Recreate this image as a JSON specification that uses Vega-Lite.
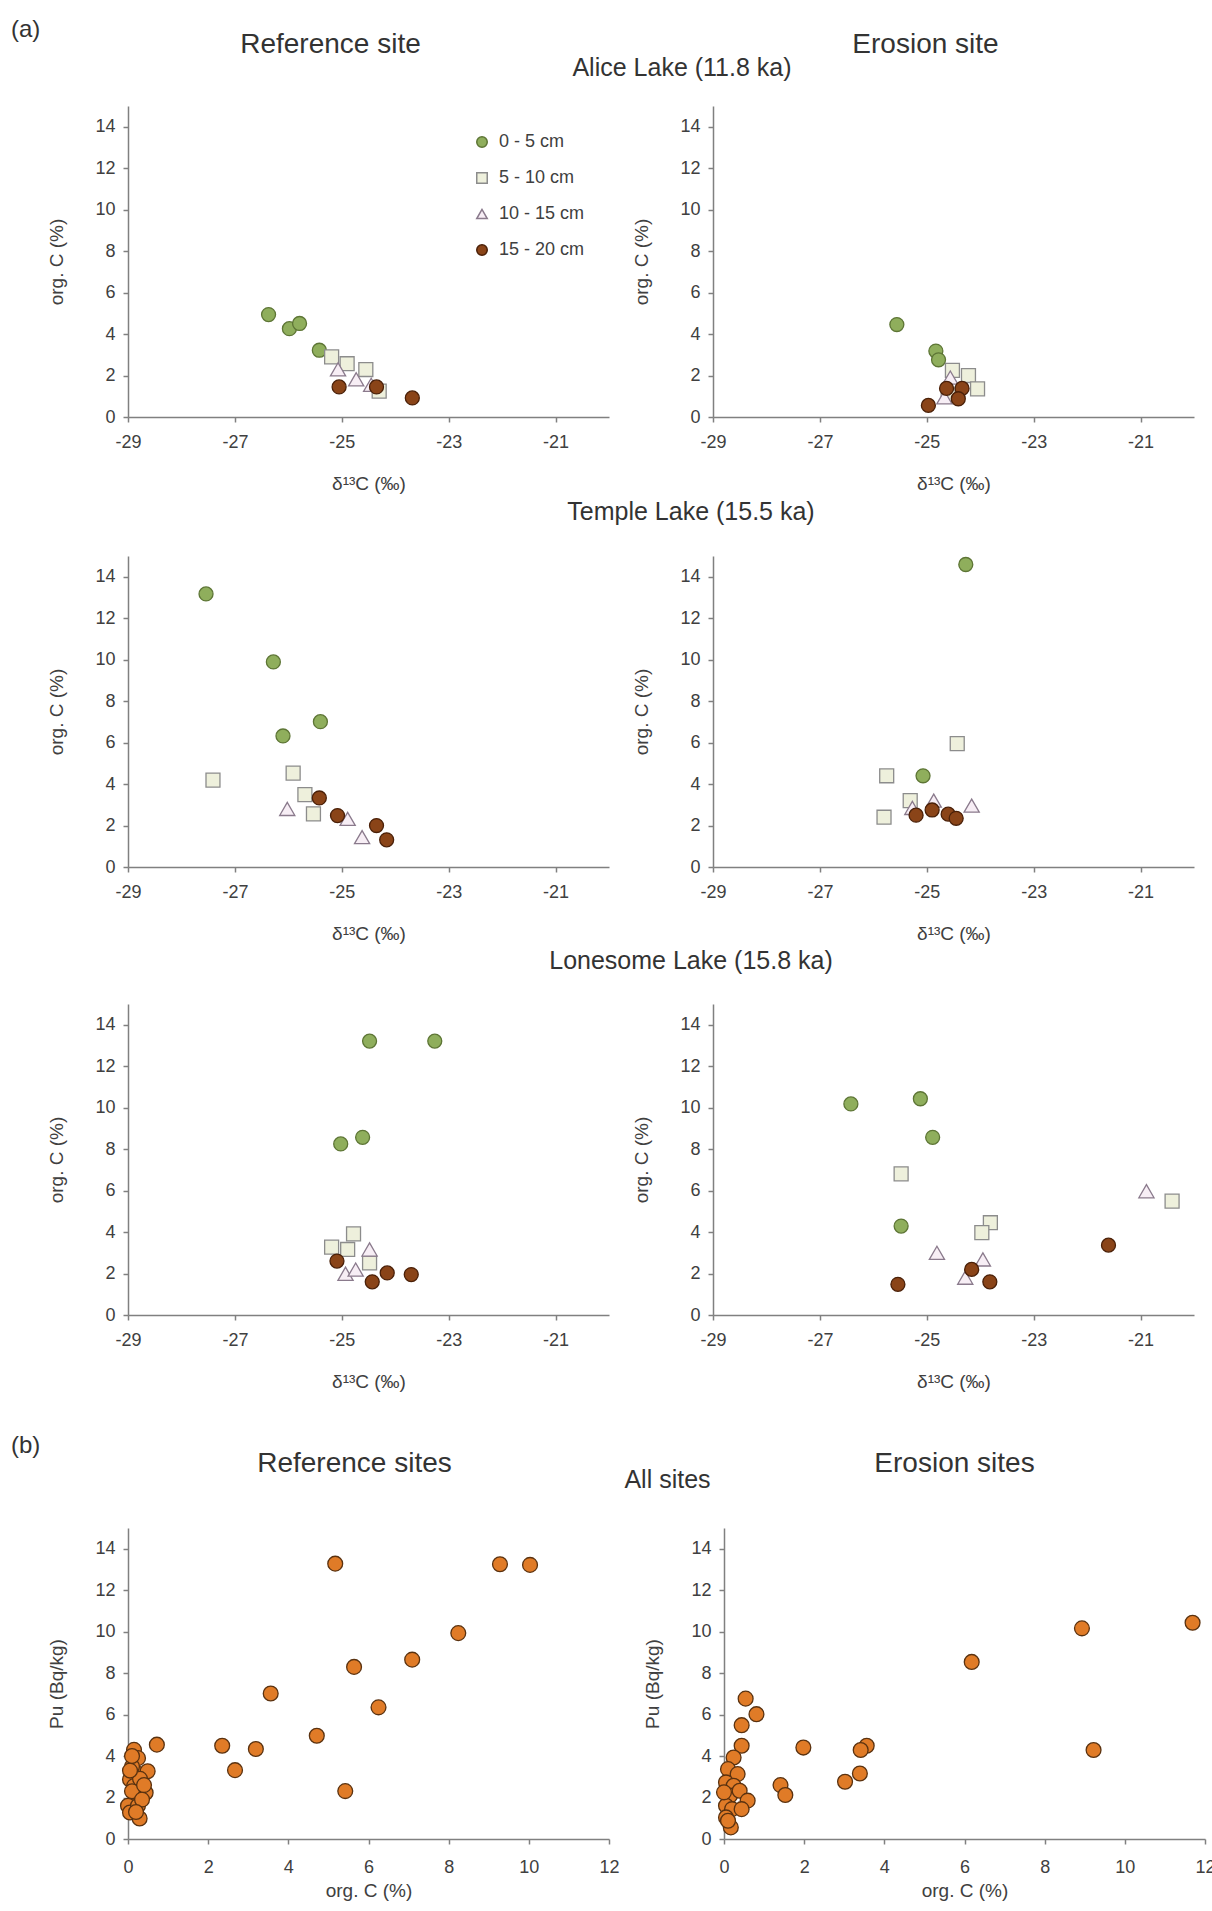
{
"$schema": "https://vega.github.io/schema/vega-lite/v6.json",
"padding": {"left": 10, "top": 18, "right": 10, "bottom": 5},
"background": "white",
"config": {
 "font": "Liberation Sans",
 "view": {"stroke": null},
 "axis": {"grid": false, "domainColor": "#808080", "domainWidth": 1.5, "tickColor": "#808080", "tickWidth": 1.5, "tickSize": 5, "labelFontSize": 18, "labelColor": "#404040", "titleFontSize": 19, "titleFontWeight": "normal", "titleColor": "#404040", "labelFlush": false, "labelOverlap": false},
 "axisX": {"labelPadding": 11, "titlePadding": 23},
 "axisY": {"labelPadding": 8, "titlePadding": 28},
 "title": {"fontWeight": "normal", "color": "#333333", "frame": "bounds", "anchor": "middle"}
},
"datasets": {
 "a": [
  {"lake":"Alice","site":"ref","depth":"0 - 5 cm","d13C":-26.37,"orgC":4.94},
  {"lake":"Alice","site":"ref","depth":"0 - 5 cm","d13C":-25.98,"orgC":4.26},
  {"lake":"Alice","site":"ref","depth":"0 - 5 cm","d13C":-25.79,"orgC":4.51},
  {"lake":"Alice","site":"ref","depth":"0 - 5 cm","d13C":-25.42,"orgC":3.22},
  {"lake":"Alice","site":"ref","depth":"5 - 10 cm","d13C":-25.19,"orgC":2.9},
  {"lake":"Alice","site":"ref","depth":"5 - 10 cm","d13C":-24.9,"orgC":2.57},
  {"lake":"Alice","site":"ref","depth":"5 - 10 cm","d13C":-24.55,"orgC":2.29},
  {"lake":"Alice","site":"ref","depth":"5 - 10 cm","d13C":-24.3,"orgC":1.25},
  {"lake":"Alice","site":"ref","depth":"10 - 15 cm","d13C":-25.07,"orgC":2.3},
  {"lake":"Alice","site":"ref","depth":"10 - 15 cm","d13C":-24.73,"orgC":1.82},
  {"lake":"Alice","site":"ref","depth":"10 - 15 cm","d13C":-24.45,"orgC":1.55},
  {"lake":"Alice","site":"ref","depth":"15 - 20 cm","d13C":-25.05,"orgC":1.45},
  {"lake":"Alice","site":"ref","depth":"15 - 20 cm","d13C":-24.35,"orgC":1.45},
  {"lake":"Alice","site":"ref","depth":"15 - 20 cm","d13C":-23.68,"orgC":0.92},
  {"lake":"Alice","site":"ero","depth":"0 - 5 cm","d13C":-25.56,"orgC":4.46},
  {"lake":"Alice","site":"ero","depth":"0 - 5 cm","d13C":-24.83,"orgC":3.18},
  {"lake":"Alice","site":"ero","depth":"0 - 5 cm","d13C":-24.78,"orgC":2.76},
  {"lake":"Alice","site":"ero","depth":"5 - 10 cm","d13C":-24.52,"orgC":2.25},
  {"lake":"Alice","site":"ero","depth":"5 - 10 cm","d13C":-24.22,"orgC":2.0},
  {"lake":"Alice","site":"ero","depth":"5 - 10 cm","d13C":-24.05,"orgC":1.36},
  {"lake":"Alice","site":"ero","depth":"5 - 10 cm","d13C":-24.6,"orgC":1.1},
  {"lake":"Alice","site":"ero","depth":"10 - 15 cm","d13C":-24.56,"orgC":1.9},
  {"lake":"Alice","site":"ero","depth":"10 - 15 cm","d13C":-24.67,"orgC":0.95},
  {"lake":"Alice","site":"ero","depth":"15 - 20 cm","d13C":-24.97,"orgC":0.56},
  {"lake":"Alice","site":"ero","depth":"15 - 20 cm","d13C":-24.63,"orgC":1.38},
  {"lake":"Alice","site":"ero","depth":"15 - 20 cm","d13C":-24.34,"orgC":1.38},
  {"lake":"Alice","site":"ero","depth":"15 - 20 cm","d13C":-24.41,"orgC":0.88},
  {"lake":"Temple","site":"ref","depth":"0 - 5 cm","d13C":-27.54,"orgC":13.17},
  {"lake":"Temple","site":"ref","depth":"0 - 5 cm","d13C":-26.28,"orgC":9.89},
  {"lake":"Temple","site":"ref","depth":"0 - 5 cm","d13C":-26.1,"orgC":6.32},
  {"lake":"Temple","site":"ref","depth":"0 - 5 cm","d13C":-25.4,"orgC":7.01},
  {"lake":"Temple","site":"ref","depth":"5 - 10 cm","d13C":-27.41,"orgC":4.19},
  {"lake":"Temple","site":"ref","depth":"5 - 10 cm","d13C":-25.91,"orgC":4.53},
  {"lake":"Temple","site":"ref","depth":"5 - 10 cm","d13C":-25.69,"orgC":3.49},
  {"lake":"Temple","site":"ref","depth":"5 - 10 cm","d13C":-25.53,"orgC":2.56},
  {"lake":"Temple","site":"ref","depth":"10 - 15 cm","d13C":-26.02,"orgC":2.8},
  {"lake":"Temple","site":"ref","depth":"10 - 15 cm","d13C":-24.89,"orgC":2.32},
  {"lake":"Temple","site":"ref","depth":"10 - 15 cm","d13C":-24.62,"orgC":1.44},
  {"lake":"Temple","site":"ref","depth":"15 - 20 cm","d13C":-25.42,"orgC":3.33},
  {"lake":"Temple","site":"ref","depth":"15 - 20 cm","d13C":-25.08,"orgC":2.48},
  {"lake":"Temple","site":"ref","depth":"15 - 20 cm","d13C":-24.35,"orgC":2.0},
  {"lake":"Temple","site":"ref","depth":"15 - 20 cm","d13C":-24.16,"orgC":1.31},
  {"lake":"Temple","site":"ero","depth":"0 - 5 cm","d13C":-24.27,"orgC":14.59},
  {"lake":"Temple","site":"ero","depth":"0 - 5 cm","d13C":-25.07,"orgC":4.4},
  {"lake":"Temple","site":"ero","depth":"5 - 10 cm","d13C":-24.43,"orgC":5.95},
  {"lake":"Temple","site":"ero","depth":"5 - 10 cm","d13C":-25.75,"orgC":4.4},
  {"lake":"Temple","site":"ero","depth":"5 - 10 cm","d13C":-25.8,"orgC":2.4},
  {"lake":"Temple","site":"ero","depth":"5 - 10 cm","d13C":-25.31,"orgC":3.2},
  {"lake":"Temple","site":"ero","depth":"10 - 15 cm","d13C":-24.16,"orgC":2.96},
  {"lake":"Temple","site":"ero","depth":"10 - 15 cm","d13C":-24.87,"orgC":3.2},
  {"lake":"Temple","site":"ero","depth":"10 - 15 cm","d13C":-25.27,"orgC":2.85},
  {"lake":"Temple","site":"ero","depth":"15 - 20 cm","d13C":-25.2,"orgC":2.5},
  {"lake":"Temple","site":"ero","depth":"15 - 20 cm","d13C":-24.9,"orgC":2.75},
  {"lake":"Temple","site":"ero","depth":"15 - 20 cm","d13C":-24.6,"orgC":2.55},
  {"lake":"Temple","site":"ero","depth":"15 - 20 cm","d13C":-24.45,"orgC":2.35},
  {"lake":"Lonesome","site":"ref","depth":"0 - 5 cm","d13C":-24.48,"orgC":13.21},
  {"lake":"Lonesome","site":"ref","depth":"0 - 5 cm","d13C":-23.26,"orgC":13.21},
  {"lake":"Lonesome","site":"ref","depth":"0 - 5 cm","d13C":-25.02,"orgC":8.25},
  {"lake":"Lonesome","site":"ref","depth":"0 - 5 cm","d13C":-24.61,"orgC":8.57},
  {"lake":"Lonesome","site":"ref","depth":"5 - 10 cm","d13C":-24.78,"orgC":3.91},
  {"lake":"Lonesome","site":"ref","depth":"5 - 10 cm","d13C":-25.19,"orgC":3.27},
  {"lake":"Lonesome","site":"ref","depth":"5 - 10 cm","d13C":-24.89,"orgC":3.16},
  {"lake":"Lonesome","site":"ref","depth":"5 - 10 cm","d13C":-24.48,"orgC":2.51},
  {"lake":"Lonesome","site":"ref","depth":"10 - 15 cm","d13C":-24.48,"orgC":3.16},
  {"lake":"Lonesome","site":"ref","depth":"10 - 15 cm","d13C":-24.93,"orgC":1.99},
  {"lake":"Lonesome","site":"ref","depth":"10 - 15 cm","d13C":-24.74,"orgC":2.19},
  {"lake":"Lonesome","site":"ref","depth":"15 - 20 cm","d13C":-25.09,"orgC":2.6},
  {"lake":"Lonesome","site":"ref","depth":"15 - 20 cm","d13C":-24.43,"orgC":1.6},
  {"lake":"Lonesome","site":"ref","depth":"15 - 20 cm","d13C":-24.15,"orgC":2.03},
  {"lake":"Lonesome","site":"ref","depth":"15 - 20 cm","d13C":-23.7,"orgC":1.95},
  {"lake":"Lonesome","site":"ero","depth":"0 - 5 cm","d13C":-26.42,"orgC":10.18},
  {"lake":"Lonesome","site":"ero","depth":"0 - 5 cm","d13C":-25.12,"orgC":10.43},
  {"lake":"Lonesome","site":"ero","depth":"0 - 5 cm","d13C":-24.89,"orgC":8.57},
  {"lake":"Lonesome","site":"ero","depth":"0 - 5 cm","d13C":-25.48,"orgC":4.29},
  {"lake":"Lonesome","site":"ero","depth":"5 - 10 cm","d13C":-25.48,"orgC":6.81},
  {"lake":"Lonesome","site":"ero","depth":"5 - 10 cm","d13C":-23.81,"orgC":4.45},
  {"lake":"Lonesome","site":"ero","depth":"5 - 10 cm","d13C":-23.97,"orgC":3.97},
  {"lake":"Lonesome","site":"ero","depth":"5 - 10 cm","d13C":-20.41,"orgC":5.49},
  {"lake":"Lonesome","site":"ero","depth":"10 - 15 cm","d13C":-20.89,"orgC":5.97},
  {"lake":"Lonesome","site":"ero","depth":"10 - 15 cm","d13C":-24.81,"orgC":3.0},
  {"lake":"Lonesome","site":"ero","depth":"10 - 15 cm","d13C":-23.95,"orgC":2.68},
  {"lake":"Lonesome","site":"ero","depth":"10 - 15 cm","d13C":-24.28,"orgC":1.8},
  {"lake":"Lonesome","site":"ero","depth":"15 - 20 cm","d13C":-25.54,"orgC":1.48},
  {"lake":"Lonesome","site":"ero","depth":"15 - 20 cm","d13C":-24.16,"orgC":2.2},
  {"lake":"Lonesome","site":"ero","depth":"15 - 20 cm","d13C":-23.82,"orgC":1.6},
  {"lake":"Lonesome","site":"ero","depth":"15 - 20 cm","d13C":-21.6,"orgC":3.37}
 ],
 "b": [
  {"site":"ref","orgC":5.17,"Pu":13.28},{"site":"ref","orgC":9.28,"Pu":13.25},{"site":"ref","orgC":10.03,"Pu":13.22},
  {"site":"ref","orgC":8.24,"Pu":9.93},{"site":"ref","orgC":7.09,"Pu":8.65},{"site":"ref","orgC":5.64,"Pu":8.3},
  {"site":"ref","orgC":3.56,"Pu":7.02},{"site":"ref","orgC":6.25,"Pu":6.35},{"site":"ref","orgC":4.71,"Pu":4.98},
  {"site":"ref","orgC":2.35,"Pu":4.5},{"site":"ref","orgC":3.19,"Pu":4.34},{"site":"ref","orgC":2.67,"Pu":3.32},
  {"site":"ref","orgC":5.42,"Pu":2.31},{"site":"ref","orgC":0.72,"Pu":4.55},
  {"site":"ref","orgC":0.15,"Pu":4.3},{"site":"ref","orgC":0.25,"Pu":3.9},{"site":"ref","orgC":0.2,"Pu":3.2},
  {"site":"ref","orgC":0.49,"Pu":3.27},{"site":"ref","orgC":0.05,"Pu":2.87},{"site":"ref","orgC":0.15,"Pu":2.55},
  {"site":"ref","orgC":0.44,"Pu":2.23},{"site":"ref","orgC":0.2,"Pu":2.0},{"site":"ref","orgC":0.0,"Pu":1.6},
  {"site":"ref","orgC":0.05,"Pu":1.28},{"site":"ref","orgC":0.29,"Pu":0.99},{"site":"ref","orgC":0.25,"Pu":1.6},
  {"site":"ref","orgC":0.1,"Pu":3.5},{"site":"ref","orgC":0.3,"Pu":2.9},{"site":"ref","orgC":0.1,"Pu":2.3},
  {"site":"ref","orgC":0.35,"Pu":1.9},{"site":"ref","orgC":0.05,"Pu":3.3},{"site":"ref","orgC":0.2,"Pu":1.3},
  {"site":"ref","orgC":0.4,"Pu":2.6},{"site":"ref","orgC":0.1,"Pu":4.0},
  {"site":"ero","orgC":11.69,"Pu":10.43},{"site":"ero","orgC":8.93,"Pu":10.16},{"site":"ero","orgC":6.18,"Pu":8.54},
  {"site":"ero","orgC":9.22,"Pu":4.29},{"site":"ero","orgC":3.56,"Pu":4.5},{"site":"ero","orgC":3.41,"Pu":4.29},
  {"site":"ero","orgC":3.39,"Pu":3.16},{"site":"ero","orgC":3.02,"Pu":2.76},{"site":"ero","orgC":1.98,"Pu":4.41},
  {"site":"ero","orgC":1.41,"Pu":2.6},{"site":"ero","orgC":1.53,"Pu":2.12},{"site":"ero","orgC":0.54,"Pu":6.77},
  {"site":"ero","orgC":0.81,"Pu":6.02},{"site":"ero","orgC":0.44,"Pu":5.49},{"site":"ero","orgC":0.44,"Pu":4.5},
  {"site":"ero","orgC":0.24,"Pu":3.93},{"site":"ero","orgC":0.1,"Pu":3.37},{"site":"ero","orgC":0.34,"Pu":3.13},
  {"site":"ero","orgC":0.05,"Pu":2.73},{"site":"ero","orgC":0.24,"Pu":2.57},{"site":"ero","orgC":0.15,"Pu":2.09},
  {"site":"ero","orgC":0.39,"Pu":2.33},{"site":"ero","orgC":0.59,"Pu":1.85},{"site":"ero","orgC":0.05,"Pu":1.6},
  {"site":"ero","orgC":0.2,"Pu":1.44},{"site":"ero","orgC":0.05,"Pu":1.04},{"site":"ero","orgC":0.17,"Pu":0.56},
  {"site":"ero","orgC":0.44,"Pu":1.44},{"site":"ero","orgC":0.0,"Pu":2.25},{"site":"ero","orgC":0.1,"Pu":0.88}
 ]
},
"spacing": 43,
"resolve": {"scale": {"fill": "independent", "stroke": "independent", "shape": "independent"}, "legend": {"fill": "independent", "stroke": "independent", "shape": "independent"}},
"vconcat": [
 {
  "title": {"text": "(a)", "anchor": "start", "fontSize": 24, "offset": -11, "dx": -37},
  "spacing": 6,
  "resolve": {"scale": {"fill": "independent", "stroke": "independent", "shape": "independent"}, "legend": {"fill": "independent", "stroke": "independent", "shape": "independent"}},
  "vconcat": [
   {
    "title": {"text": "Alice Lake (11.8 ka)", "fontSize": 25, "offset": -50, "dx": 61},
    "spacing": 23,
    "resolve": {"scale": {"fill": "independent", "stroke": "independent", "shape": "independent"}, "legend": {"fill": "independent", "stroke": "independent", "shape": "independent"}},
    "hconcat": [
     {
      "width": 481, "height": 311,
      "title": {"text": "Reference site", "fontSize": 28, "offset": 47, "dx": 2},
      "data": {"name": "a"},
      "transform": [{"filter": "datum.lake === 'Alice' && datum.site === 'ref'"}],
      "mark": {"type": "point", "filled": true, "strokeWidth": 1.3, "opacity": 1},
      "encoding": {
       "x": {"field": "d13C", "type": "quantitative", "scale": {"domain": [-29, -20], "nice": false, "zero": false}, "axis": {"values": [-29, -27, -25, -23, -21], "labelExpr": "toString(datum.value)", "title": "δ¹³C (‰)"}},
       "y": {"field": "orgC", "type": "quantitative", "scale": {"domain": [0, 15], "nice": false}, "axis": {"values": [0, 2, 4, 6, 8, 10, 12, 14], "title": "org. C (%)"}},
       "size": {"condition": {"test": "datum.depth === '10 - 15 cm'", "value": 230}, "value": 195},
       "shape": {"field": "depth", "type": "nominal", "scale": {"domain": ["0 - 5 cm", "5 - 10 cm", "10 - 15 cm", "15 - 20 cm"], "range": ["circle", "square", "triangle-up", "circle"]}, "legend": {"orient": "none", "legendX": 345, "legendY": 27, "title": null, "padding": 0, "symbolSize": 110, "labelFontSize": 18, "labelColor": "#404040", "labelOffset": 8, "rowPadding": 18}},
       "fill": {"field": "depth", "type": "nominal", "scale": {"domain": ["0 - 5 cm", "5 - 10 cm", "10 - 15 cm", "15 - 20 cm"], "range": ["#8fae5c", "#eef0dc", "#f7eef5", "#8a4418"]}, "legend": {"orient": "none", "legendX": 345, "legendY": 27, "title": null, "padding": 0, "symbolSize": 110, "labelFontSize": 18, "labelColor": "#404040", "labelOffset": 8, "rowPadding": 18}},
       "stroke": {"field": "depth", "type": "nominal", "scale": {"domain": ["0 - 5 cm", "5 - 10 cm", "10 - 15 cm", "15 - 20 cm"], "range": ["#5d7535", "#8c8c8c", "#8a7a8c", "#4a2008"]}, "legend": {"orient": "none", "legendX": 345, "legendY": 27, "title": null, "padding": 0, "symbolSize": 110, "labelFontSize": 18, "labelColor": "#404040", "labelOffset": 8, "rowPadding": 18}}
      }
     },
     {
      "width": 481, "height": 311,
      "title": {"text": "Erosion site", "fontSize": 28, "offset": 47, "dx": 12},
      "data": {"name": "a"},
      "transform": [{"filter": "datum.lake === 'Alice' && datum.site === 'ero'"}],
      "mark": {"type": "point", "filled": true, "strokeWidth": 1.3, "opacity": 1},
      "encoding": {
       "x": {"field": "d13C", "type": "quantitative", "scale": {"domain": [-29, -20], "nice": false, "zero": false}, "axis": {"values": [-29, -27, -25, -23, -21], "labelExpr": "toString(datum.value)", "title": "δ¹³C (‰)"}},
       "y": {"field": "orgC", "type": "quantitative", "scale": {"domain": [0, 15], "nice": false}, "axis": {"values": [0, 2, 4, 6, 8, 10, 12, 14], "title": "org. C (%)"}},
       "size": {"condition": {"test": "datum.depth === '10 - 15 cm'", "value": 230}, "value": 195},
       "shape": {"field": "depth", "type": "nominal", "scale": {"domain": ["0 - 5 cm", "5 - 10 cm", "10 - 15 cm", "15 - 20 cm"], "range": ["circle", "square", "triangle-up", "circle"]}, "legend": null},
       "fill": {"field": "depth", "type": "nominal", "scale": {"domain": ["0 - 5 cm", "5 - 10 cm", "10 - 15 cm", "15 - 20 cm"], "range": ["#8fae5c", "#eef0dc", "#f7eef5", "#8a4418"]}, "legend": null},
       "stroke": {"field": "depth", "type": "nominal", "scale": {"domain": ["0 - 5 cm", "5 - 10 cm", "10 - 15 cm", "15 - 20 cm"], "range": ["#5d7535", "#8c8c8c", "#8a7a8c", "#4a2008"]}, "legend": null}
      }
     }
    ]
   },
   {
    "title": {"text": "Temple Lake (15.5 ka)", "fontSize": 25, "offset": 30, "dx": 70},
    "spacing": 23,
    "resolve": {"scale": {"fill": "independent", "stroke": "independent", "shape": "independent"}, "legend": {"fill": "independent", "stroke": "independent", "shape": "independent"}},
    "hconcat": [
     {
      "width": 481, "height": 311,
      "data": {"name": "a"},
      "transform": [{"filter": "datum.lake === 'Temple' && datum.site === 'ref'"}],
      "mark": {"type": "point", "filled": true, "strokeWidth": 1.3, "opacity": 1},
      "encoding": {
       "x": {"field": "d13C", "type": "quantitative", "scale": {"domain": [-29, -20], "nice": false, "zero": false}, "axis": {"values": [-29, -27, -25, -23, -21], "labelExpr": "toString(datum.value)", "title": "δ¹³C (‰)"}},
       "y": {"field": "orgC", "type": "quantitative", "scale": {"domain": [0, 15], "nice": false}, "axis": {"values": [0, 2, 4, 6, 8, 10, 12, 14], "title": "org. C (%)"}},
       "size": {"condition": {"test": "datum.depth === '10 - 15 cm'", "value": 230}, "value": 195},
       "shape": {"field": "depth", "type": "nominal", "scale": {"domain": ["0 - 5 cm", "5 - 10 cm", "10 - 15 cm", "15 - 20 cm"], "range": ["circle", "square", "triangle-up", "circle"]}, "legend": null},
       "fill": {"field": "depth", "type": "nominal", "scale": {"domain": ["0 - 5 cm", "5 - 10 cm", "10 - 15 cm", "15 - 20 cm"], "range": ["#8fae5c", "#eef0dc", "#f7eef5", "#8a4418"]}, "legend": null},
       "stroke": {"field": "depth", "type": "nominal", "scale": {"domain": ["0 - 5 cm", "5 - 10 cm", "10 - 15 cm", "15 - 20 cm"], "range": ["#5d7535", "#8c8c8c", "#8a7a8c", "#4a2008"]}, "legend": null}
      }
     },
     {
      "width": 481, "height": 311,
      "data": {"name": "a"},
      "transform": [{"filter": "datum.lake === 'Temple' && datum.site === 'ero'"}],
      "mark": {"type": "point", "filled": true, "strokeWidth": 1.3, "opacity": 1},
      "encoding": {
       "x": {"field": "d13C", "type": "quantitative", "scale": {"domain": [-29, -20], "nice": false, "zero": false}, "axis": {"values": [-29, -27, -25, -23, -21], "labelExpr": "toString(datum.value)", "title": "δ¹³C (‰)"}},
       "y": {"field": "orgC", "type": "quantitative", "scale": {"domain": [0, 15], "nice": false}, "axis": {"values": [0, 2, 4, 6, 8, 10, 12, 14], "title": "org. C (%)"}},
       "size": {"condition": {"test": "datum.depth === '10 - 15 cm'", "value": 230}, "value": 195},
       "shape": {"field": "depth", "type": "nominal", "scale": {"domain": ["0 - 5 cm", "5 - 10 cm", "10 - 15 cm", "15 - 20 cm"], "range": ["circle", "square", "triangle-up", "circle"]}, "legend": null},
       "fill": {"field": "depth", "type": "nominal", "scale": {"domain": ["0 - 5 cm", "5 - 10 cm", "10 - 15 cm", "15 - 20 cm"], "range": ["#8fae5c", "#eef0dc", "#f7eef5", "#8a4418"]}, "legend": null},
       "stroke": {"field": "depth", "type": "nominal", "scale": {"domain": ["0 - 5 cm", "5 - 10 cm", "10 - 15 cm", "15 - 20 cm"], "range": ["#5d7535", "#8c8c8c", "#8a7a8c", "#4a2008"]}, "legend": null}
      }
     }
    ]
   },
   {
    "title": {"text": "Lonesome Lake (15.8 ka)", "fontSize": 25, "offset": 30, "dx": 70},
    "spacing": 23,
    "resolve": {"scale": {"fill": "independent", "stroke": "independent", "shape": "independent"}, "legend": {"fill": "independent", "stroke": "independent", "shape": "independent"}},
    "hconcat": [
     {
      "width": 481, "height": 311,
      "data": {"name": "a"},
      "transform": [{"filter": "datum.lake === 'Lonesome' && datum.site === 'ref'"}],
      "mark": {"type": "point", "filled": true, "strokeWidth": 1.3, "opacity": 1},
      "encoding": {
       "x": {"field": "d13C", "type": "quantitative", "scale": {"domain": [-29, -20], "nice": false, "zero": false}, "axis": {"values": [-29, -27, -25, -23, -21], "labelExpr": "toString(datum.value)", "title": "δ¹³C (‰)"}},
       "y": {"field": "orgC", "type": "quantitative", "scale": {"domain": [0, 15], "nice": false}, "axis": {"values": [0, 2, 4, 6, 8, 10, 12, 14], "title": "org. C (%)"}},
       "size": {"condition": {"test": "datum.depth === '10 - 15 cm'", "value": 230}, "value": 195},
       "shape": {"field": "depth", "type": "nominal", "scale": {"domain": ["0 - 5 cm", "5 - 10 cm", "10 - 15 cm", "15 - 20 cm"], "range": ["circle", "square", "triangle-up", "circle"]}, "legend": null},
       "fill": {"field": "depth", "type": "nominal", "scale": {"domain": ["0 - 5 cm", "5 - 10 cm", "10 - 15 cm", "15 - 20 cm"], "range": ["#8fae5c", "#eef0dc", "#f7eef5", "#8a4418"]}, "legend": null},
       "stroke": {"field": "depth", "type": "nominal", "scale": {"domain": ["0 - 5 cm", "5 - 10 cm", "10 - 15 cm", "15 - 20 cm"], "range": ["#5d7535", "#8c8c8c", "#8a7a8c", "#4a2008"]}, "legend": null}
      }
     },
     {
      "width": 481, "height": 311,
      "data": {"name": "a"},
      "transform": [{"filter": "datum.lake === 'Lonesome' && datum.site === 'ero'"}],
      "mark": {"type": "point", "filled": true, "strokeWidth": 1.3, "opacity": 1},
      "encoding": {
       "x": {"field": "d13C", "type": "quantitative", "scale": {"domain": [-29, -20], "nice": false, "zero": false}, "axis": {"values": [-29, -27, -25, -23, -21], "labelExpr": "toString(datum.value)", "title": "δ¹³C (‰)"}},
       "y": {"field": "orgC", "type": "quantitative", "scale": {"domain": [0, 15], "nice": false}, "axis": {"values": [0, 2, 4, 6, 8, 10, 12, 14], "title": "org. C (%)"}},
       "size": {"condition": {"test": "datum.depth === '10 - 15 cm'", "value": 230}, "value": 195},
       "shape": {"field": "depth", "type": "nominal", "scale": {"domain": ["0 - 5 cm", "5 - 10 cm", "10 - 15 cm", "15 - 20 cm"], "range": ["circle", "square", "triangle-up", "circle"]}, "legend": null},
       "fill": {"field": "depth", "type": "nominal", "scale": {"domain": ["0 - 5 cm", "5 - 10 cm", "10 - 15 cm", "15 - 20 cm"], "range": ["#8fae5c", "#eef0dc", "#f7eef5", "#8a4418"]}, "legend": null},
       "stroke": {"field": "depth", "type": "nominal", "scale": {"domain": ["0 - 5 cm", "5 - 10 cm", "10 - 15 cm", "15 - 20 cm"], "range": ["#5d7535", "#8c8c8c", "#8a7a8c", "#4a2008"]}, "legend": null}
      }
     }
    ]
   }
  ]
 },
 {
  "title": {"text": "(b)", "anchor": "start", "fontSize": 24, "offset": -8, "dx": -37},
  "vconcat": [
   {
    "title": {"text": "All sites", "fontSize": 25, "offset": -43, "dx": 36},
    "spacing": 23,
    "hconcat": [
     {
      "width": 481, "height": 311,
      "title": {"text": "Reference sites", "fontSize": 28, "offset": 50, "dx": 21},
      "data": {"name": "b"},
      "transform": [{"filter": "datum.site === 'ref'"}],
      "mark": {"type": "point", "filled": true, "size": 220, "fill": "#e07b27", "stroke": "#5a3210", "strokeWidth": 1.3, "opacity": 1},
      "encoding": {
       "x": {"field": "orgC", "type": "quantitative", "scale": {"domain": [0, 12], "nice": false}, "axis": {"values": [0, 2, 4, 6, 8, 10, 12], "title": "org. C (%)", "labelPadding": 14, "titlePadding": 5}},
       "y": {"field": "Pu", "type": "quantitative", "scale": {"domain": [0, 15], "nice": false}, "axis": {"values": [0, 2, 4, 6, 8, 10, 12, 14], "title": "Pu (Bq/kg)"}}
      }
     },
     {
      "width": 481, "height": 311,
      "title": {"text": "Erosion sites", "fontSize": 28, "offset": 50, "dx": 25},
      "data": {"name": "b"},
      "transform": [{"filter": "datum.site === 'ero'"}],
      "mark": {"type": "point", "filled": true, "size": 220, "fill": "#e07b27", "stroke": "#5a3210", "strokeWidth": 1.3, "opacity": 1},
      "encoding": {
       "x": {"field": "orgC", "type": "quantitative", "scale": {"domain": [0, 12], "nice": false}, "axis": {"values": [0, 2, 4, 6, 8, 10, 12], "title": "org. C (%)", "labelPadding": 14, "titlePadding": 5}},
       "y": {"field": "Pu", "type": "quantitative", "scale": {"domain": [0, 15], "nice": false}, "axis": {"values": [0, 2, 4, 6, 8, 10, 12, 14], "title": "Pu (Bq/kg)"}}
      }
     }
    ]
   }
  ]
 }
]
}
